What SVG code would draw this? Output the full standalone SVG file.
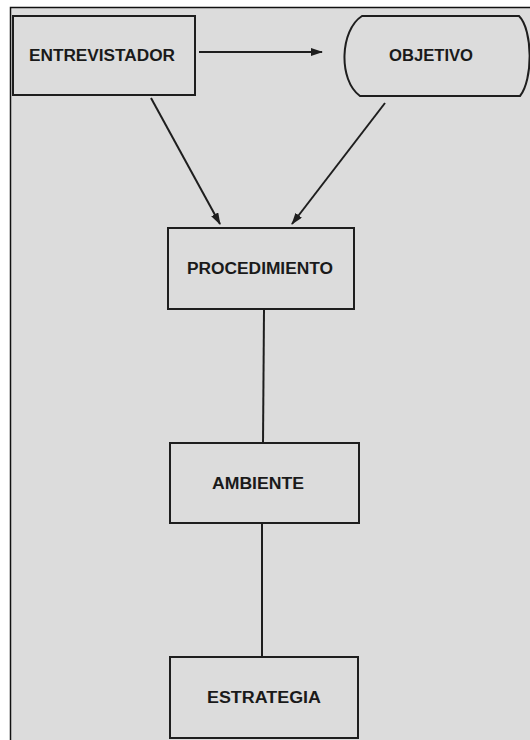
<svg xmlns="http://www.w3.org/2000/svg" width="530" height="740" viewBox="0 0 530 740">
<style>
.bg{fill:#dcdcdc}
.box{fill:#dcdcdc;stroke:#1e1e1e;stroke-width:2}
.lbl{font-family:"Liberation Sans",Arial,sans-serif;font-weight:bold;font-size:16px;fill:#1a1a1a;text-anchor:middle}
.con{stroke:#1e1e1e;stroke-width:2;fill:none}
</style>
<defs>
<marker id="ah" viewBox="0 0 12 8" refX="11" refY="4" markerWidth="12" markerHeight="8" markerUnits="userSpaceOnUse" orient="auto">
<path d="M0,0 L12,4 L0,8 Z" fill="#1e1e1e"/>
</marker>
</defs>
<rect x="0" y="0" width="530" height="740" fill="#ffffff"/>
<rect class="bg" x="10" y="7" width="530" height="740"/>
<path d="M10.5,740 L10.5,7.5 L530,7.5" fill="none" stroke="#111" stroke-width="1.5"/>
<g id="connectors">
<line class="con" x1="199" y1="52" x2="322" y2="52" marker-end="url(#ah)"/>
<line class="con" x1="151" y1="98" x2="220" y2="224" marker-end="url(#ah)"/>
<line class="con" x1="385" y1="103" x2="292" y2="224" marker-end="url(#ah)"/>
<line class="con" x1="264" y1="310" x2="263" y2="443"/>
<line class="con" x1="262" y1="524" x2="262" y2="657"/>
</g>
<g id="entrevistador">
<rect class="box" x="13" y="16" width="182" height="79"/>
<text class="lbl" x="102" y="61" textLength="146" lengthAdjust="spacingAndGlyphs">ENTREVISTADOR</text>
</g>
<g id="objetivo">
<path class="box" d="M362,16 L519,16 C533,30 533,80 520,96 L360,96 C338,80 340,30 362,16 Z"/>
<text class="lbl" x="431" y="61" textLength="84" lengthAdjust="spacingAndGlyphs">OBJETIVO</text>
</g>
<g id="procedimiento">
<rect class="box" x="168" y="228" width="186" height="81"/>
<text class="lbl" x="260" y="274" textLength="146" lengthAdjust="spacingAndGlyphs">PROCEDIMIENTO</text>
</g>
<g id="ambiente">
<rect class="box" x="170" y="443" width="189" height="80"/>
<text class="lbl" x="258" y="489" textLength="92" lengthAdjust="spacingAndGlyphs">AMBIENTE</text>
</g>
<g id="estrategia">
<rect class="box" x="170" y="657" width="188" height="81"/>
<text class="lbl" x="264" y="703" textLength="114" lengthAdjust="spacingAndGlyphs">ESTRATEGIA</text>
</g>
</svg>
